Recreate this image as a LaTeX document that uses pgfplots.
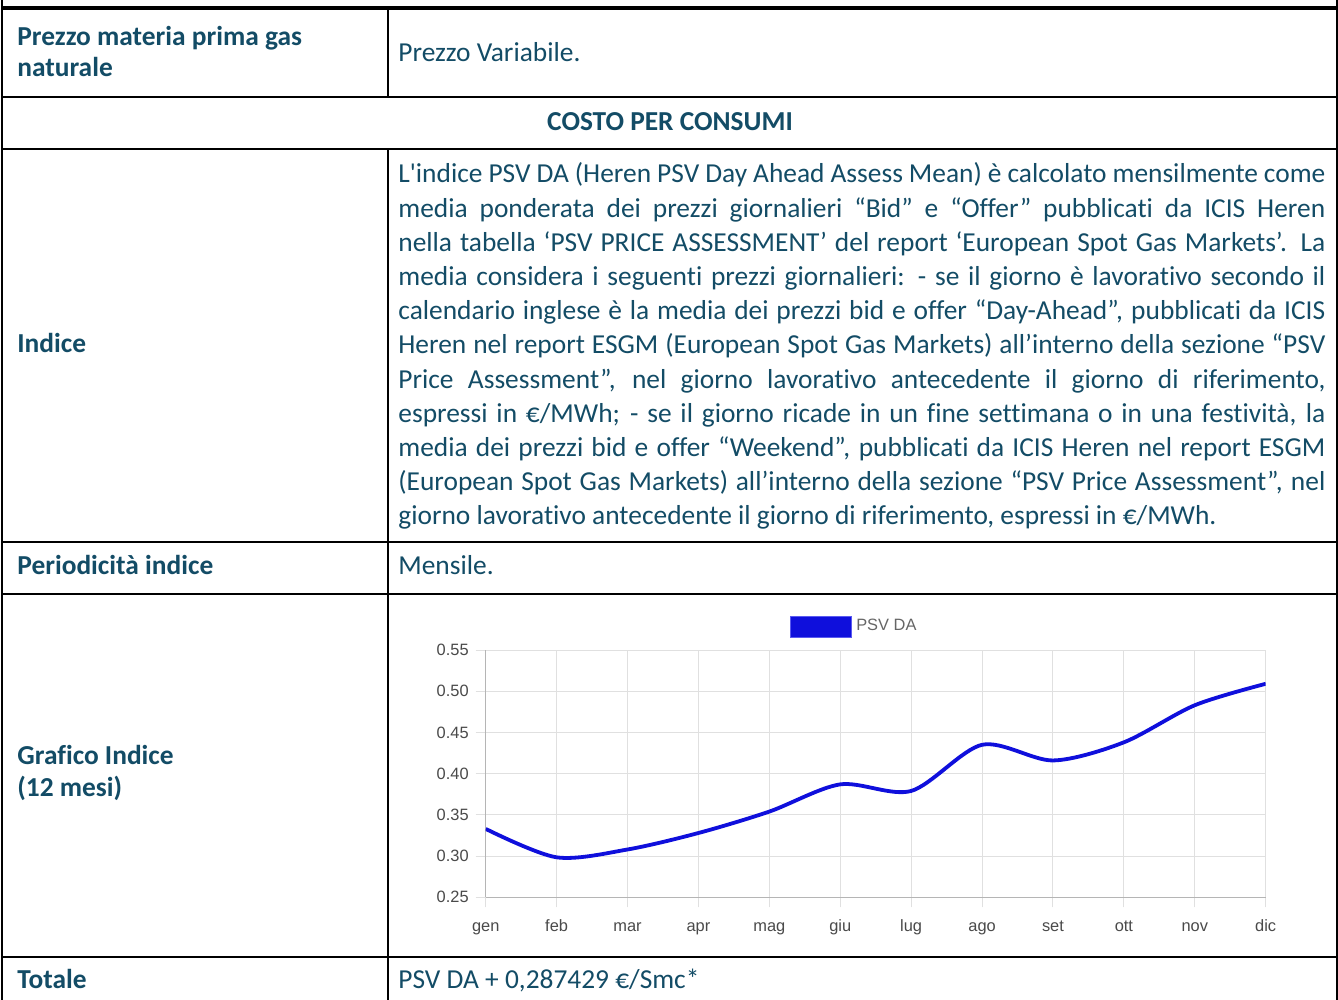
\documentclass[border=0pt]{standalone}
\usepackage{pgfplots}
\pgfplotsset{compat=1.18}
\usepackage{fontspec}
\setmainfont{Carlito}[Ligatures={TeXOff,NoCommon}]
\newfontfamily\chartfont{Liberation Sans}
\definecolor{tc}{HTML}{134C66}
\definecolor{psv}{HTML}{0F0FDC}
\definecolor{psvl}{HTML}{5A5AF0}
\definecolor{gridc}{HTML}{E0E0E0}
\definecolor{axc}{HTML}{B5B5B5}
\definecolor{tickc}{HTML}{4A4A4A}
\definecolor{legc}{HTML}{666666}
\newcommand\tf{\fontsize{13.7}{16}\selectfont}
\newcommand\jl[2]{\node[anchor=base west,inner sep=0,text=tc,font=\tf] at (398,#1) {\makebox[463.5pt][s]{#2}};}
\begin{document}
\begin{tikzpicture}[x=0.5pt,y=0.5pt]
\path[use as bounding box, fill=white] (0,0) rectangle (1338,1000);
% table rules
\draw[line width=1.65pt] (1.4,992) -- (1337.6,992);
\begin{scope}[line width=0.9pt]
\draw (2,903) -- (1337,903);
\draw (2,851) -- (1337,851);
\draw (2,458) -- (1337,458);
\draw (2,406) -- (1337,406);
\draw (2,43) -- (1337,43);
\draw (2.3,0) -- (2.3,1000);
\draw (1336.7,0) -- (1336.7,1000);
\draw (388,992) -- (388,903);
\draw (388,851) -- (388,0);
\end{scope}
\tikzset{lab/.style={anchor=base west,inner sep=0,text=tc,font=\bfseries\tf},
         txt/.style={anchor=base west,inner sep=0,text=tc,font=\tf}}
% row 1
\node[lab] at (17,954) {Prezzo materia prima gas};
\node[lab] at (17,923) {naturale};
\node[txt] at (398,938) {Prezzo Variabile.};
% row 2
\node[anchor=base,inner sep=0,text=tc,font=\bfseries\tf] at (670,869) {COSTO PER CONSUMI};
% row 3
\node[lab] at (17,647) {Indice};
\jl{817}{L'indice PSV DA (Heren PSV Day Ahead Assess Mean) è calcolato mensilmente come}
\jl{782.8}{media ponderata dei prezzi giornalieri “Bid” e “Offer” pubblicati da ICIS Heren}
\jl{748.6}{nella tabella ‘PSV PRICE ASSESSMENT’ del report ‘European Spot Gas Markets’. La}
\jl{714.4}{media considera i seguenti prezzi giornalieri: - se il giorno è lavorativo secondo il}
\jl{680.2}{calendario inglese è la media dei prezzi bid e offer “Day-Ahead”, pubblicati da ICIS}
\jl{646}{Heren nel report ESGM (European Spot Gas Markets) all’interno della sezione “PSV}
\jl{611.8}{Price Assessment”, nel giorno lavorativo antecedente il giorno di riferimento,}
\jl{577.6}{espressi in €/MWh; - se il giorno ricade in un fine settimana o in una festività, la}
\jl{543.4}{media dei prezzi bid e offer “Weekend”, pubblicati da ICIS Heren nel report ESGM}
\jl{509.2}{(European Spot Gas Markets) all’interno della sezione “PSV Price Assessment”, nel}
\node[txt] at (398,475) {giorno lavorativo antecedente il giorno di riferimento, espressi in €/MWh.};
% row 4
\node[lab] at (17,425) {Periodicità indice};
\node[txt] at (398,425) {Mensile.};
% row 5
\node[lab] at (17,235) {Grafico Indice};
\node[lab] at (17,203) {(12 mesi)};
% row 6
\node[lab] at (17,11) {Totale};
\node[txt] at (398,11) {PSV DA + 0,287429 €/Smc*};
% chart
\begin{axis}[at={(242.85pt,51.35pt)}, anchor=south west, scale only axis,
  width=390pt, height=123.65pt,
  xmin=0, xmax=11, ymin=0.25, ymax=0.55,
  xtick={0,...,11},
  xticklabels={gen,feb,mar,apr,mag,giu,lug,ago,set,ott,nov,dic},
  ytick={0.25,0.30,0.35,0.40,0.45,0.50,0.55},
  yticklabels={0.25,0.30,0.35,0.40,0.45,0.50,0.55},
  grid=major, grid style={gridc, line width=0.5pt},
  axis lines*=left, axis line style={axc, line width=0.6pt},
  tick align=outside, major tick length=5pt,
  tick style={gridc, line width=0.5pt},
  ticklabel style={font=\chartfont\fontsize{8.2}{9}\selectfont, text=tickc},
  xticklabel style={text height=1.55ex, text depth=0.3ex, yshift=-1pt},
  legend style={draw=none, fill=none, at={(axis description cs:0.390,1.095)}, anchor=west,
    font=\chartfont\fontsize{8.2}{9}\selectfont, text=legc, inner sep=0pt},
  legend image code/.code={\draw[fill=psv, draw=psvl, line width=0.5pt] (0pt,-5.25pt) rectangle (30.5pt,5.25pt);},
]
\addplot[psv, line width=1.9pt, smooth, tension=0.5, mark=none] coordinates {
(0,0.333) (1,0.2985) (2,0.308) (3,0.328) (4,0.354) (5,0.387)
(6,0.379) (7,0.435) (8,0.416) (9,0.438) (10,0.483) (11,0.509)};
\addlegendentry{PSV DA}
\end{axis}
\end{tikzpicture}
\end{document}
